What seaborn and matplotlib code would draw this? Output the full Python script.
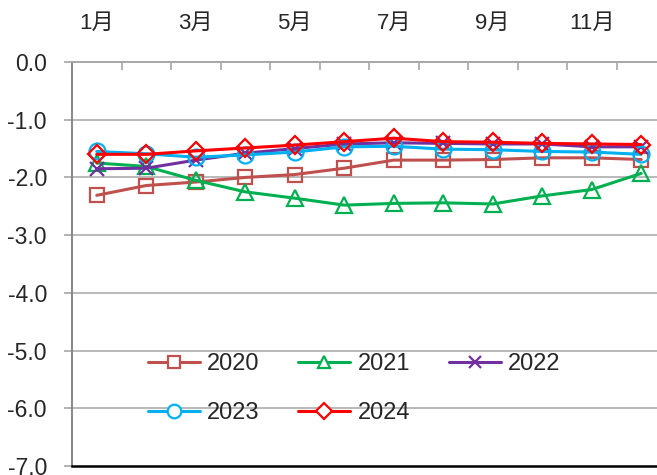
import matplotlib
matplotlib.use("Agg")
import matplotlib.pyplot as plt
import seaborn as sns
from matplotlib.lines import Line2D

# Monthly values per year
months = list(range(1, 13))
month_labels = ["1月", "", "3月", "", "5月", "", "7月", "", "9月", "", "11月", ""]
y_ticks = [0, -1, -2, -3, -4, -5, -6, -7]

v2020 = [-2.31, -2.14, -2.08, -2.00, -1.95, -1.84, -1.70, -1.70, -1.69, -1.66, -1.66, -1.69]
v2021 = [-1.75, -1.81, -2.05, -2.25, -2.36, -2.48, -2.45, -2.44, -2.46, -2.32, -2.21, -1.93]
v2022 = [-1.85, -1.84, -1.70, -1.58, -1.50, -1.42, -1.40, -1.41, -1.42, -1.42, -1.47, -1.47]
v2023 = [-1.55, -1.59, -1.65, -1.61, -1.56, -1.47, -1.46, -1.51, -1.52, -1.55, -1.56, -1.60]
v2024 = [-1.60, -1.60, -1.54, -1.49, -1.44, -1.38, -1.32, -1.38, -1.39, -1.41, -1.42, -1.43]

series = [
    ("2020", v2020, "#C0504D", "s", 10),
    ("2021", v2021, "#00B050", "^", 11),
    ("2022", v2022, "#7030A0", "x", 10),
    ("2023", v2023, "#00B0F0", "o", 11.5),
    ("2024", v2024, "#FF0000", "D", 9.5),
]

sns.set_style("white")
plt.rcParams["font.family"] = ["Liberation Sans", "Noto Sans CJK JP", "DejaVu Sans"]

fig = plt.figure(figsize=(6.57, 4.75), dpi=100)
ax = fig.add_axes([72 / 657, 9 / 475, 594 / 657, 404 / 475])

for name, vals, color, mk, ms in series:
    sns.lineplot(x=months, y=vals, ax=ax, color=color, marker=mk, markersize=ms,
                 markerfacecolor="none", markeredgecolor=color, markeredgewidth=1.6,
                 linewidth=2.2, sort=False, errorbar=None, legend=False)

ax.set_xlim(0.5, 12.5)
ax.set_ylim(-7, 0)

# horizontal gridlines
for y in y_ticks[1:-1]:
    ax.axhline(y, color="#A6A6A6", lw=1.1, zorder=0)

# category axis sits on top, labels above
ax.xaxis.tick_top()
ax.set_xticks(months)
ax.set_xticklabels(month_labels, fontsize=16)
ax.set_xticks([m + 0.5 for m in range(0, 12)], minor=True)
ax.tick_params(axis="x", which="major", length=0, pad=20)
ax.tick_params(axis="x", which="minor", direction="in", length=6, width=1.2,
               color="#A6A6A6", top=True, bottom=False)

ax.set_yticks(y_ticks)
ax.set_yticklabels([f"{v:.1f}" for v in y_ticks], fontsize=16.5)
ax.tick_params(axis="y", direction="out", length=6, width=1.2, color="#A6A6A6",
               pad=12, left=True)

ax.spines["right"].set_visible(False)
ax.spines["top"].set_color("#A6A6A6")
ax.spines["top"].set_linewidth(1.4)
ax.spines["left"].set_color("#868686")
ax.spines["left"].set_linewidth(1.4)
ax.spines["bottom"].set_color("black")
ax.spines["bottom"].set_linewidth(1.8)
ax.set_xlabel("")
ax.set_ylabel("")

# legend filled row by row: 2020 2021 2022 / 2023 2024
order = [0, 3, 1, 4, 2]
handles = []
labels = []
for i in order:
    name, _, c, mk, ms = series[i]
    handles.append(Line2D([], [], color=c, marker=mk, markersize=ms * 0.85,
                          markerfacecolor="white", markeredgecolor=c,
                          markeredgewidth=1.6, linewidth=2.2))
    labels.append(name)
fig.legend(handles, labels, loc="upper left", bbox_to_anchor=(148 / 657, 1 - 353 / 475),
           ncol=3, frameon=False, fontsize=17, handlelength=2.2, handletextpad=0.3,
           columnspacing=1.65, labelspacing=1.15, borderpad=0, borderaxespad=0)

fig.savefig("out.png", dpi=100)
